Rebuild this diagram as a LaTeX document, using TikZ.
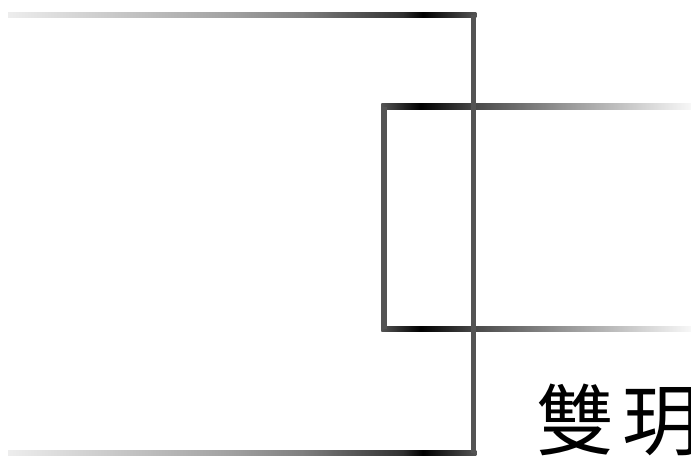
\documentclass[tikz,border=0pt]{standalone}
\usepackage{fontspec}
\newfontfamily\cjkfont{Noto Sans CJK TC}
\pgfdeclarehorizontalshading{outerfade}{100bp}{
  color(0bp)=(black!7);
  color(25bp)=(black!7);
  color(48.85bp)=(black!37);
  color(56.4bp)=(black!50);
  color(67.15bp)=(black!81);
  color(69.3bp)=(black);
  color(75bp)=(black!67);
  color(100bp)=(black!67)}
\pgfdeclarehorizontalshading{innerfade}{100bp}{
  color(0bp)=(black!67);
  color(25bp)=(black!67);
  color(31.35bp)=(black);
  color(39.5bp)=(black!73);
  color(53.65bp)=(black!43);
  color(66.7bp)=(black!18);
  color(75bp)=(black!3);
  color(100bp)=(black!3)}
\begin{document}
\begin{tikzpicture}[x=1pt,y=-1pt,
  edgegray/.style={draw=black!67,line width=5.5pt},
  label/.style={inner sep=0pt,anchor=base west,font=\cjkfont\fontsize{78}{78}\selectfont}]
\useasboundingbox (0,0) rectangle (691,459);
% named corners
\coordinate (oTL) at (8,15);
\coordinate (oTR) at (473.5,15);
\coordinate (oBR) at (473.5,453);
\coordinate (oBL) at (8,453);
\coordinate (iTL) at (384,106.5);
\coordinate (iBL) at (384,329);
\coordinate (iTR) at (691,106.5);
\coordinate (iBR) at (691,329);
% inner open box
\shade[shading=innerfade] (381.25,103.75) rectangle (691,109.25);
\shade[shading=innerfade] (381.25,326.25) rectangle (691,331.75);
\draw[edgegray] (iTL) -- (iBL);
% outer open box
\shade[shading=outerfade] (8,12.25) rectangle (476.25,17.75);
\shade[shading=outerfade] (8,450.25) rectangle (476.25,455.75);
\draw[edgegray] (oTR) -- (oBR);
% label
\node[label] (name) at (536,449.5) {雙\hspace{8pt}玥};
\end{tikzpicture}
\end{document}
